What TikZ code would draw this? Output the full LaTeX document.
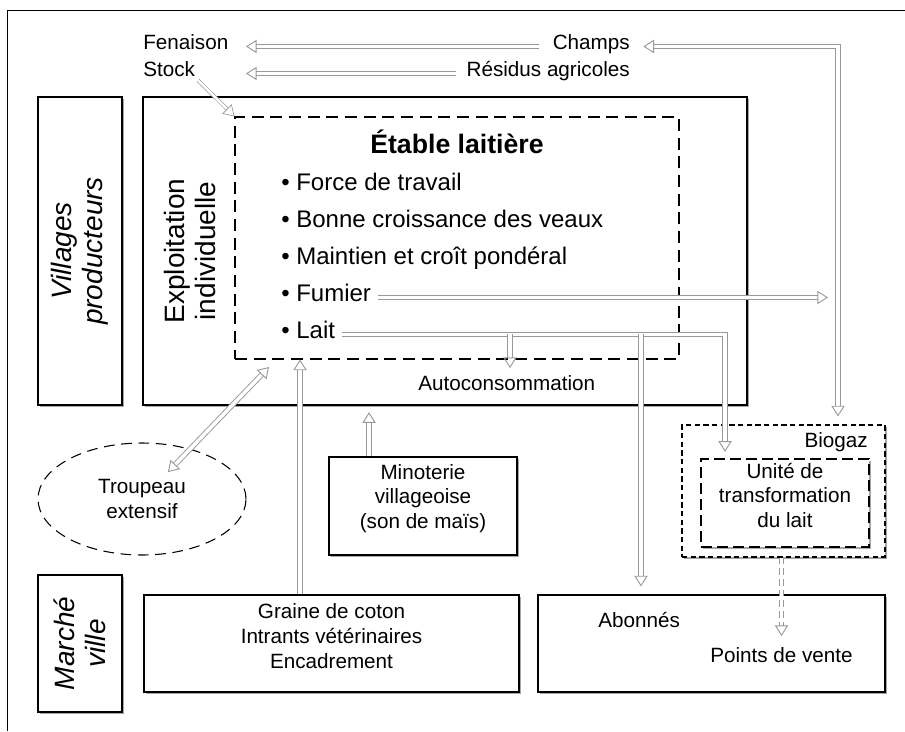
\documentclass[tikz,border=0pt]{standalone}
\usepackage{fontspec}
\setmainfont{Liberation Sans}
\usetikzlibrary{positioning, arrows.meta, fit, shapes.geometric, shadows}

\begin{document}
\begin{tikzpicture}[
    x=0.75pt, y=-0.75pt,
    >={Triangle[open, length=8pt, width=10pt]},
    font=\fontsize{15.5}{18.5}\selectfont,
    every node/.style={inner sep=0pt},
    boite/.style={draw, line width=0.8pt, fill=white, align=center,
        drop shadow={shadow xshift=1.6pt, shadow yshift=-1.6pt, fill=black!35, opacity=1}},
    cadre/.style={rotate=90, align=center, font=\fontsize{21}{23}\selectfont},
    cadreital/.style={cadre, font=\fontsize{21}{23}\selectfont\itshape},
    item/.style={anchor=base west, font=\fontsize{18}{21}\selectfont},
    flux/.style={->, draw=black!40, line width=0.7pt, double=white, double distance=2.6pt},
    fluxdeux/.style={flux, <->},
    fluxtirets/.style={flux, dash pattern=on 5pt off 3pt}
]
    \useasboundingbox (0,0) rectangle (905,731);

    % Cadre de la page
    \draw[line width=0.6pt] (7,731) -- (7,10) -- (905,10);

    % Boites
    \node[boite, fit={(38,97) (122,405)}] (villages) {};
    \node[boite, fit={(143,97) (747,405)}] (exploitation) {};
    \node[draw, line width=0.8pt, dash pattern=on 9pt off 5pt, fit={(235,117) (679,359)}] (etable) {};
    \node[boite, dash pattern=on 4pt off 2.5pt, fit={(682,425) (885,557)}] (biogaz) {};
    \node[boite, dash pattern=on 8pt off 4pt, fit={(701,459) (869,547)}] (unite) {Unité de\\transformation\\du lait};
    \node[boite, fit={(329,457) (517,555)}] (minoterie) {Minoterie\\villageoise\\(son de maïs)};
    \node[boite, fit={(144,595) (519,692)}] (graine) {Graine de coton\\Intrants vétérinaires\\Encadrement};
    \node[boite, fit={(538,595) (885,692)}] (abonnes) {};
    \node[boite, fit={(38,575) (122,712)}] (marche) {};
    \node[draw, ellipse, line width=0.8pt, dash pattern=on 8pt off 5pt, minimum width=156pt,
        minimum height=84pt, align=center] (troupeau) at (142,499) {Troupeau\\extensif};

    % Textes
    \node[cadreital] (villagestexte) at (villages.center) {Villages\\producteurs};
    \node[cadre] (exploitationtexte) at (190,251) {Exploitation\\individuelle};
    \node[cadreital] (marchetexte) at (marche.center) {Marché\\ville};

    \node[anchor=base west] (fenaison) at (143,50) {Fenaison};
    \node[anchor=base west] (stock) at (143,77) {Stock};
    \node[anchor=base east] (champs) at (630,50) {Champs};
    \node[anchor=base east] (residus) at (630,77) {Résidus agricoles};

    \node[anchor=base, font=\fontsize{20}{24}\selectfont\bfseries] (titre) at (457,153) {Étable laitière};
    \node[item] (force) at (281,190) {\textbullet\ Force de travail};
    \node[item, below=27.75pt of force.base west, anchor=base west] (bonne) {\textbullet\ Bonne croissance des veaux};
    \node[item, below=27.75pt of bonne.base west, anchor=base west] (maintien) {\textbullet\ Maintien et croît pondéral};
    \node[item, below=27.75pt of maintien.base west, anchor=base west] (fumier) {\textbullet\ Fumier};
    \node[item, below=27.75pt of fumier.base west, anchor=base west] (lait) {\textbullet\ Lait};

    \node[anchor=base west] (autoconso) at (418,390) {Autoconsommation};
    \node[anchor=base east] (biogaztexte) at (868,447) {Biogaz};
    \node[anchor=base west] (abonnestexte) at (598,627) {Abonnés};
    \node[anchor=base west] (points) at (710,662) {Points de vente};

    % Points de passage
    \coordinate (pointe) at (246,0);
    \coordinate (coinchamps) at (838,0);
    \coordinate (coinlait) at (725,0);
    \coordinate (brancheauto) at (510,0);
    \coordinate (brancheabo) at (641,0);
    \coordinate (accroche) at (269,367);

    % Flux
    \draw[flux, shorten <=10pt] (champs.mid west) -- (champs.mid west -| pointe);
    \draw[flux, shorten <=8pt] (residus.mid west) -- (residus.mid west -| pointe);
    \draw[flux, line width=0.5pt, double distance=1.8pt, shorten <=3pt] (stock.south east) -- (etable.north west);
    \draw[fluxdeux, shorten <=10pt, shorten >=6pt] (champs.mid east) -- (champs.mid east -| coinchamps) -- (coinchamps |- biogaz.north);
    \draw[flux, shorten <=5pt, shorten >=7.5pt] (fumier.mid east) -- (fumier.mid east -| coinchamps);
    \draw[flux, shorten <=5pt, shorten >=5pt] (lait.mid east) -- (lait.mid east -| coinlait) -- (coinlait |- unite.north);
    \draw[flux, shorten >=5pt] (brancheauto |- lait.mid east) -- (brancheauto |- autoconso.north);
    \draw[flux, shorten >=6pt] (brancheabo |- lait.mid east) -- (brancheabo |- abonnes.north);
    \draw[flux, shorten >=5pt] ([xshift=-40.5pt]minoterie.north) -- ([xshift=-40.5pt]minoterie.north |- exploitation.south);
    \draw[flux] ([xshift=-23.6pt]graine.north) -- ([xshift=-23.6pt]graine.north |- etable.south);
    \draw[fluxdeux, shorten <=28pt] (troupeau.center) -- (accroche);
    \draw[fluxtirets, shorten >=8pt] (points.north |- biogaz.south) -- (points.north);
\end{tikzpicture}
\end{document}
